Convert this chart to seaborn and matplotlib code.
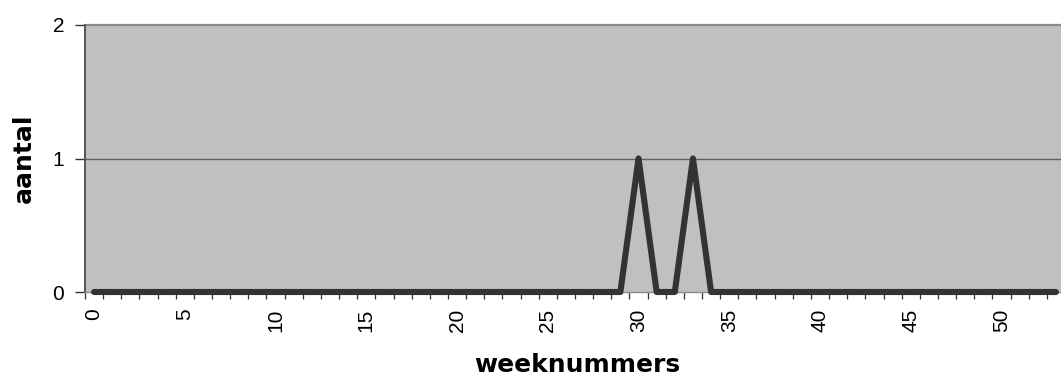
import numpy as np
import seaborn as sns
import matplotlib.pyplot as plt
from matplotlib.ticker import FixedLocator

# weeknummers 0 t/m 53 en aantal per week
weeks = list(range(54))
counts = [0] * 54
counts[30] = 1
counts[33] = 1
xtick_labels = [str(w) for w in range(0, 51, 5)]
ytick_values = [0, 1, 2]

sns.set_style('white')
plt.rcParams['font.family'] = ['Liberation Sans', 'DejaVu Sans']
plt.rcParams['text.color'] = 'black'
plt.rcParams['xtick.color'] = 'black'
plt.rcParams['ytick.color'] = 'black'

fig = plt.figure(figsize=(10.61, 3.76), dpi=100)
ax = fig.add_axes([85 / 1061, 84 / 376, 980 / 1061, 267 / 376])
ax.set_facecolor('#c0c0c0')

# rasterlijnen
ax.axhline(1, color='#606060', lw=1.0, zorder=1)
ax.axhline(2, color='#8a8a8a', lw=1.6, zorder=1, clip_on=False)

sns.lineplot(x=weeks, y=counts, ax=ax, color='#333333', lw=4.4,
             solid_capstyle='round', zorder=3, clip_on=False)

ax.set_xlim(-0.5, 53.5)
ax.set_ylim(0, 2)

ax.xaxis.set_major_locator(FixedLocator(range(0, 51, 5)))
ax.set_xticklabels(xtick_labels, rotation=90, fontsize=15)
ax.xaxis.set_minor_locator(FixedLocator(np.arange(-0.5, 54, 1)))
ax.tick_params(axis='x', which='major', length=0, pad=12)
ax.tick_params(axis='x', which='minor', bottom=True, length=5, width=0.9,
               color='#333333', direction='out')

ax.set_yticks(ytick_values)
ax.set_yticklabels([str(v) for v in ytick_values], fontsize=15)
ax.tick_params(axis='y', which='major', left=True, length=7, width=1.0,
               color='#333333', direction='out', pad=8)

for side in ['top', 'right']:
    ax.spines[side].set_visible(False)
ax.spines['left'].set_color('#555555')
ax.spines['left'].set_linewidth(1.4)
ax.spines['bottom'].set_color('#8a8a8a')
ax.spines['bottom'].set_linewidth(1.0)

fig.text(577 / 1061, 4 / 376, 'weeknummers', ha='center', va='baseline',
         fontsize=18, fontweight='bold', family='DejaVu Sans', color='black')
fig.text(24 / 1061, 218 / 376, 'aantal', ha='center', va='center',
         rotation=90, fontsize=18, fontweight='bold', family='DejaVu Sans',
         color='black')

fig.savefig('out.png', dpi=100)
